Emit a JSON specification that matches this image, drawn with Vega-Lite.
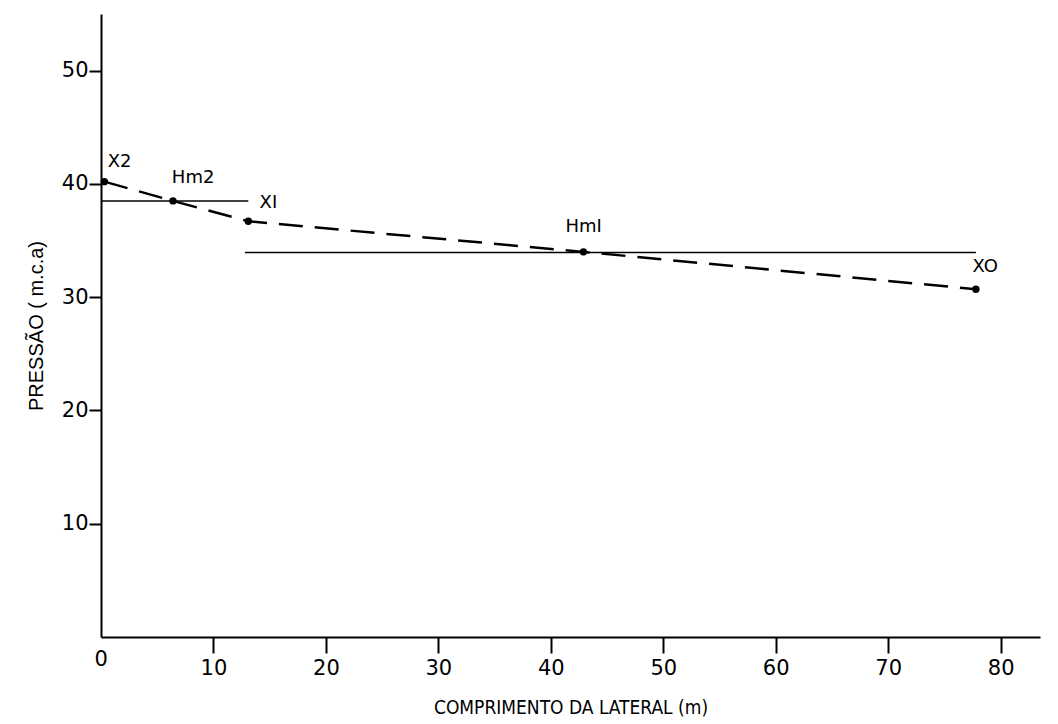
{
  "$schema": "https://vega.github.io/schema/vega-lite/v6.json",
  "width": 939,
  "height": 623,
  "autosize": {"type": "none"},
  "padding": {"left": 101, "top": 14, "right": 18, "bottom": 87},
  "background": "white",
  "config": {
    "view": {"stroke": null},
    "axis": {
      "domainColor": "black",
      "domainWidth": 2,
      "tickColor": "black",
      "tickWidth": 2,
      "grid": false,
      "labelFont": "DejaVu Sans",
      "labelFontSize": 21,
      "labelColor": "black",
      "titleFont": "Liberation Sans Narrow, DejaVu Sans Condensed, sans-serif",
      "titleFontSize": 19,
      "titleFontWeight": "normal",
      "titleColor": "black"
    }
  },
  "datasets": {
    "points": [
      {"name": "X2", "x": 0.3, "y": 40.2},
      {"name": "Hm2", "x": 6.4, "y": 38.5},
      {"name": "X1", "x": 13.1, "y": 36.7},
      {"name": "Hm1", "x": 42.9, "y": 34.0},
      {"name": "X0", "x": 77.8, "y": 30.7}
    ],
    "levels": [
      {"x": 0, "x2": 13.1, "y": 38.5},
      {"x": 12.8, "x2": 77.8, "y": 33.95}
    ],
    "labels": [
      {"text": "X2", "x": 0.6, "y": 41.9},
      {"text": "Hm2", "x": 6.3, "y": 40.5},
      {"text": "XI", "x": 14.1, "y": 38.3},
      {"text": "HmI", "x": 41.3, "y": 36.2},
      {"text": "XO", "x": 77.5, "y": 32.7}
    ]
  },
  "layer": [
    {
      "data": {"name": "levels"},
      "mark": {"type": "rule", "color": "black", "strokeWidth": 1.5},
      "encoding": {
        "x": {
          "field": "x", "type": "quantitative",
          "scale": {"domain": [0, 83.5], "nice": false, "zero": false},
          "axis": {
            "values": [0, 10, 20, 30, 40, 50, 60, 70, 80],
            "tickSize": 16,
            "tickOpacity": {"condition": {"test": "datum.value == 0", "value": 0}, "value": 1},
            "labelPadding": {"condition": {"test": "datum.value == 0", "value": -5}, "value": 4},
            "labelOffset": {"condition": {"test": "datum.value == 0", "value": -7}, "value": 0},
            "title": "COMPRIMENTO DA LATERAL (m)",
            "titlePadding": 20
          }
        },
        "x2": {"field": "x2"},
        "y": {
          "field": "y", "type": "quantitative",
          "scale": {"domain": [0, 55], "nice": false},
          "axis": {
            "values": [10, 20, 30, 40, 50],
            "tickSize": 12,
            "labelPadding": 1,
            "title": "PRESSÃO ( m.c.a)",
            "titleFont": "Liberation Sans",
            "titleFontSize": 20,
            "titlePadding": 15
          }
        }
      }
    },
    {
      "data": {"name": "points"},
      "mark": {"type": "line", "color": "black", "strokeWidth": 2.5, "strokeDash": [24, 12]},
      "encoding": {
        "x": {"field": "x", "type": "quantitative"},
        "y": {"field": "y", "type": "quantitative"},
        "order": {"field": "x"}
      }
    },
    {
      "data": {"name": "points"},
      "mark": {"type": "point", "filled": true, "color": "black", "size": 55, "opacity": 1},
      "encoding": {
        "x": {"field": "x", "type": "quantitative"},
        "y": {"field": "y", "type": "quantitative"}
      }
    },
    {
      "data": {"name": "labels"},
      "mark": {"type": "text", "align": "left", "baseline": "middle", "font": "DejaVu Sans", "fontSize": 18, "color": "black"},
      "encoding": {
        "x": {"field": "x", "type": "quantitative"},
        "y": {"field": "y", "type": "quantitative"},
        "text": {"field": "text"}
      }
    }
  ]
}
